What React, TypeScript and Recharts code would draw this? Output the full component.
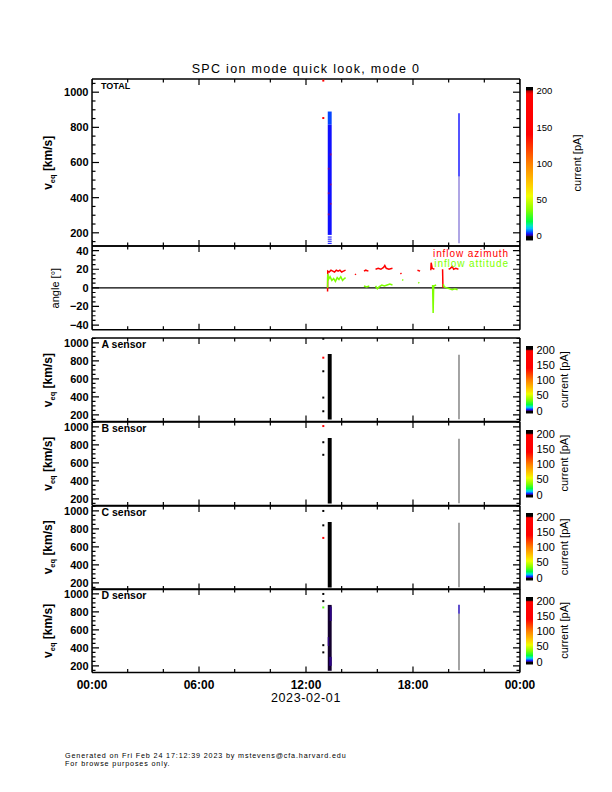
import React from "react";
import {
  ComposedChart,
  Line,
  ReferenceArea,
  ReferenceLine,
  Scatter,
  XAxis,
  YAxis
} from "recharts";

const FONT = "'Liberation Sans', Arial, Helvetica, sans-serif";

// ---- axes (hours of 2023-02-01) ----
const hourTicks = [0, 6, 12, 18, 24];
const hourMinorTicks = [2, 4, 8, 10, 14, 16, 20, 22];
const hourLabels = ["00:00", "06:00", "12:00", "18:00", "00:00"];
const dateLabel = "2023-02-01";

const velTicks = [200, 400, 600, 800, 1000];
const velMinorTicks = [150, 250, 300, 350, 450, 500, 550, 650, 700, 750, 850, 900, 950, 1050];
const angleTicks = [-40, -20, 0, 20, 40];
const angleMinorTicks = [-35, -30, -25, -15, -10, -5, 5, 10, 15, 25, 30, 35];
const currentTicks = [0, 50, 100, 150, 200];

// ---- spectrogram cells: time span [h], velocity span [km/s], current [pA] ----
type Cell = { t0: number; t1: number; v0: number; v1: number; pa: number };
type Spot = { t: number; v: number; pa: number };

const totalCells: Cell[] = [
  { t0: 13.22, t1: 13.44, v0: 815, v1: 890, pa: 5 },
  { t0: 13.22, t1: 13.44, v0: 188, v1: 815, pa: 3 },
  { t0: 13.22, t1: 13.44, v0: 173, v1: 179, pa: 3 },
  { t0: 13.22, t1: 13.44, v0: 161, v1: 167, pa: 3 },
  { t0: 13.22, t1: 13.44, v0: 149, v1: 155, pa: 3 },
  { t0: 13.22, t1: 13.44, v0: 137, v1: 143, pa: 3 },
  { t0: 20.54, t1: 20.62, v0: 520, v1: 880, pa: 3 }
];
const totalSpeckle: Cell[] = [
  { t0: 13.33, t1: 13.44, v0: 640, v1: 652, pa: 150 },
  { t0: 13.22, t1: 13.33, v0: 560, v1: 570, pa: 150 },
  { t0: 13.33, t1: 13.44, v0: 470, v1: 480, pa: 140 },
  { t0: 13.22, t1: 13.33, v0: 420, v1: 430, pa: 160 },
  { t0: 13.33, t1: 13.44, v0: 360, v1: 370, pa: 150 },
  { t0: 13.22, t1: 13.33, v0: 300, v1: 310, pa: 150 }
];
const totalSparse: Cell[] = [{ t0: 20.54, t1: 20.62, v0: 140, v1: 520, pa: 1.5 }];
const totalSpots: Spot[] = [
  { t: 12.97, v: 1066, pa: 160 },
  { t: 12.97, v: 853, pa: 150 }
];

const sensorCells: Cell[] = [{ t0: 13.22, t1: 13.44, v0: 148, v1: 877, pa: -3 }];
const sensorSparse: Cell[] = [{ t0: 20.54, t1: 20.62, v0: 150, v1: 870, pa: -3 }];
const sensorASpots: Spot[] = [
  { t: 12.97, v: 1047, pa: -3 },
  { t: 12.97, v: 836, pa: 150 },
  { t: 12.97, v: 685, pa: -3 },
  { t: 12.97, v: 392, pa: -3 },
  { t: 12.97, v: 240, pa: -3 }
];
const sensorBSpots: Spot[] = [
  { t: 12.97, v: 1010, pa: 150 },
  { t: 12.97, v: 830, pa: -3 },
  { t: 12.97, v: 690, pa: -3 }
];
const sensorCSpots: Spot[] = [
  { t: 12.97, v: 1000, pa: -3 },
  { t: 12.97, v: 840, pa: -3 },
  { t: 12.97, v: 700, pa: 150 }
];
const sensorDCells: Cell[] = [
  { t0: 13.22, t1: 13.44, v0: 145, v1: 878, pa: -0.6 },
  { t0: 13.33, t1: 13.44, v0: 700, v1: 860, pa: 0.4 },
  { t0: 13.22, t1: 13.3, v0: 420, v1: 520, pa: 0.3 },
  { t0: 13.3, t1: 13.44, v0: 200, v1: 300, pa: 0.4 },
  { t0: 20.54, t1: 20.62, v0: 780, v1: 880, pa: 1.5 }
];
const sensorDSparse: Cell[] = [{ t0: 20.54, t1: 20.62, v0: 150, v1: 780, pa: -3 }];
const sensorDSpots: Spot[] = [
  { t: 12.97, v: 1000, pa: -3 },
  { t: 12.97, v: 920, pa: -3 },
  { t: 12.97, v: 850, pa: 30 },
  { t: 12.97, v: 430, pa: -3 },
  { t: 12.97, v: 350, pa: -3 }
];

// ---- inflow angles [deg] (null = gap) ----
const azimuthHours = [
  13.21, 13.22, 13.3, 13.4, 13.5, 13.6, 13.7, 13.8, 13.9, 14.0, 14.1, 14.22, 14.23,
  14.75, 14.8, 14.81, 15.25, 15.35, 15.5, 15.51, 15.9, 16.05, 16.2, 16.35, 16.42, 16.5,
  16.65, 16.85, 16.86, 17.3, 17.35, 17.36, 17.6, 17.62, 18.25, 18.4, 18.41, 19.0, 19.02,
  19.08, 19.2, 19.21, 19.66, 19.68, 19.69, 20.0, 20.1, 20.2, 20.28, 20.4, 20.55
];
const azimuthDeg = [
  -4, 18, 17, 19, 18, 17, 19, 18, 19, 17, 18, 19, null,
  15, 14, null, 18, 19, 18, null, 20, 21, 20, 22, 24, 21,
  20, 21, null, 16, 15, null, 18, null, 19, 18, null, 19, 27,
  21, 20, null, 20, 0, null, 20, 21, 23, 20, 21, 20
];
const attitudeHours = [
  13.21, 13.22, 13.26, 13.35, 13.45, 13.55, 13.65, 13.75, 13.85, 13.95, 14.05, 14.15,
  14.22, 14.23, 14.8, 14.82, 15.25, 15.4, 15.55, 15.56, 15.9, 16.0, 16.1, 16.25, 16.4,
  16.55, 16.7, 16.85, 16.86, 17.4, 17.45, 17.46, 17.8, 17.82, 18.3, 18.35, 18.36, 19.1,
  19.13, 19.16, 19.3, 19.31, 19.7, 19.75, 19.9, 20.05, 20.2, 20.35, 20.5
];
const attitudeDeg = [
  0, 15, 9, 12, 8, 10, 7, 11, 9, 12, 8, 10,
  11, null, 4, null, 2, 1, 2, null, 2, -1, 1, 3, 2,
  3, 4, 3, null, 9, 8, null, 5, null, 6, 5, null, 3,
  -27, 2, 3, null, 4, 1, 0, -1, -2, -1, -2
];

// ---- colour table (current in pA) ----
const cmapStops: [number, string][] = [
  [-6, "#000000"], [-1, "#000000"], [0, "#300070"], [3, "#1010ff"], [6, "#0060ff"],
  [10, "#00c0ff"], [14, "#00e8c0"], [20, "#00ff40"], [35, "#80ff00"], [55, "#f0ff00"],
  [70, "#ffd000"], [100, "#ff8000"], [125, "#ff3000"], [140, "#ff0000"], [196, "#ff0000"],
  [200, "#b00000"], [202, "#000000"], [206, "#000000"]
];

function currentColor(pa: number) {
  if (pa <= cmapStops[0][0]) return cmapStops[0][1];
  for (let i = 1; i < cmapStops.length; i++) {
    const [v1, c1] = cmapStops[i];
    if (pa <= v1) {
      const [v0, c0] = cmapStops[i - 1];
      const f = (pa - v0) / (v1 - v0);
      const a = parseInt(c0.slice(1), 16);
      const b = parseInt(c1.slice(1), 16);
      const ch = (s: number) =>
        Math.round(((a >> s) & 255) * (1 - f) + ((b >> s) & 255) * f);
      return `rgb(${ch(16)},${ch(8)},${ch(0)})`;
    }
  }
  return cmapStops[cmapStops.length - 1][1];
}

// ---- layout ----
const X_LEFT = 92;
const X_RIGHT = 520;
const PAGE_W = 612;
const PAD = 20;
// recharts skips zero-sized axes, so every axis gets a hair of size
const HAIR = 0.01;

const axisLine = { stroke: "#000", strokeWidth: 1.5 };

type Side = "left" | "right" | "top" | "bottom";
type Mark = { t: number; v: number; side: Side; len: number };

// label renderer: gets the point on the axis line (tickSize 0, tickMargin 0)
function axisLabel(side: Side, label: (v: number, i: number) => string, size: number) {
  return (p: any) => {
    const x = Number(p.x);
    const y = Number(p.y);
    const text = label(p.payload.value, p.index);
    return side === "left" ? (
      <text x={x - 3.5} y={y + size * 0.36} textAnchor="end" fontFamily={FONT}
        fontSize={size} fontWeight="bold" fill="#000">
        {text}
      </text>
    ) : (
      <text x={x} y={y + 8 + size * 0.72} textAnchor="middle" fontFamily={FONT}
        fontSize={size} fontWeight="bold" fill="#000">
        {text}
      </text>
    );
  };
}

// IDL puts its tick marks inside the box, drawn here as scatter marks on the frame
function MarkShape(props: any) {
  const { cx, cy, payload } = props;
  const { side, len } = payload as Mark;
  const dx = side === "left" ? len : side === "right" ? -len : 0;
  const dy = side === "top" ? len : side === "bottom" ? -len : 0;
  return <line x1={cx} y1={cy} x2={cx + dx} y2={cy + dy} stroke="#000" strokeWidth={1.2} />;
}

function frame(
  yDomain: [number, number],
  yTicks: number[],
  yMinor: number[],
  showTime: boolean,
  yFmt: (v: number) => string = (v) => `${v}`
) {
  const common = {
    type: "number" as const,
    interval: 0 as const,
    allowDataOverflow: true,
    tickLine: false,
    tickSize: 0,
    tickMargin: 0
  };
  const xs = { ...common, dataKey: "t", domain: [0, 24], height: HAIR };
  const ys = { ...common, dataKey: "v", domain: yDomain, width: HAIR };
  const timeFmt = (_v: number, i: number) => hourLabels[i];
  const [lo, hi] = yDomain;
  const marks: Mark[] = [
    ...yTicks.map((v) => ({ t: 0, v, side: "left" as Side, len: 7 })),
    ...yMinor.map((v) => ({ t: 0, v, side: "left" as Side, len: 3.5 })),
    ...yTicks.map((v) => ({ t: 24, v, side: "right" as Side, len: 7 })),
    ...yMinor.map((v) => ({ t: 24, v, side: "right" as Side, len: 3.5 })),
    ...hourTicks.map((t) => ({ t, v: lo, side: "bottom" as Side, len: 6 })),
    ...hourMinorTicks.map((t) => ({ t, v: lo, side: "bottom" as Side, len: 3.5 })),
    ...hourTicks.map((t) => ({ t, v: hi, side: "top" as Side, len: 6 })),
    ...hourMinorTicks.map((t) => ({ t, v: hi, side: "top" as Side, len: 3.5 }))
  ];
  return [
    <XAxis key="b" xAxisId="b" {...xs} ticks={hourTicks} axisLine={axisLine}
      tick={showTime ? axisLabel("bottom", timeFmt, 12) : false} />,
    <XAxis key="t" xAxisId="t" orientation="top" {...xs} ticks={hourTicks}
      axisLine={axisLine} tick={false} />,
    <YAxis key="l" yAxisId="l" {...ys} ticks={yTicks} axisLine={axisLine}
      tick={axisLabel("left", yFmt, 11)} />,
    <YAxis key="r" yAxisId="r" orientation="right" {...ys} ticks={yTicks}
      axisLine={axisLine} tick={false} />,
    <Scatter key="marks" xAxisId="b" yAxisId="l" data={marks} shape={MarkShape}
      isAnimationActive={false} />
  ];
}

function cellAreas(cells: Cell[], prefix: string, opacity = 1) {
  return cells.map((c, i) => (
    <ReferenceArea
      key={`${prefix}-${i}`}
      xAxisId="b"
      yAxisId="l"
      x1={c.t0}
      x2={c.t1}
      y1={c.v0}
      y2={c.v1}
      fill={currentColor(c.pa)}
      fillOpacity={opacity}
      stroke="none"
      ifOverflow="visible"
    />
  ));
}

function SpotShape(props: any) {
  const { cx, cy, payload } = props;
  return <rect x={cx - 1} y={cy - 1} width={2} height={2} fill={currentColor(payload.pa)} />;
}

type SpecProps = {
  top: number;
  bottom: number;
  domain: [number, number];
  cells: Cell[];
  speckle?: Cell[];
  sparse: Cell[];
  spots: Spot[];
  showTime?: boolean;
  id: string;
};

function SpecPanel({ top, bottom, domain, cells, speckle = [], sparse, spots, showTime = false, id }: SpecProps) {
  const padB = showTime ? 40 : PAD;
  return (
    <div style={{ position: "absolute", left: 0, top: top - PAD }}>
      <ComposedChart
        width={PAGE_W}
        height={bottom - top + PAD + padB}
        data={spots}
        margin={{ top: PAD, bottom: padB, left: X_LEFT, right: PAGE_W - X_RIGHT }}
      >
        {frame(domain, velTicks, velMinorTicks, showTime)}
        {cellAreas(cells, `${id}-c`)}
        {cellAreas(speckle, `${id}-k`, 0.45)}
        {cellAreas(sparse, `${id}-s`, 0.5)}
        <Scatter
          xAxisId="b"
          yAxisId="l"
          data={spots}
          shape={SpotShape}
          isAnimationActive={false}
        />
      </ComposedChart>
    </div>
  );
}

function AnglePanel({ top, bottom }: { top: number; bottom: number }) {
  const azimuth = azimuthHours.map((t, i) => ({ t, az: azimuthDeg[i] }));
  const attitude = attitudeHours.map((t, i) => ({ t, alt: attitudeDeg[i] }));
  const fmt = (v: number) => (v < 0 ? `\u2212${-v}` : `${v}`);
  return (
    <div style={{ position: "absolute", left: 0, top: top - PAD }}>
      <ComposedChart
        width={PAGE_W}
        height={bottom - top + 2 * PAD}
        data={azimuth}
        margin={{ top: PAD, bottom: PAD, left: X_LEFT, right: PAGE_W - X_RIGHT }}
      >
        {frame([-45, 45], angleTicks, angleMinorTicks, false, fmt)}
        <ReferenceLine xAxisId="b" yAxisId="l" y={0} stroke="#000" strokeWidth={1.2} />
        <Line
          xAxisId="b"
          yAxisId="l"
          data={azimuth}
          dataKey="az"
          stroke="#ff0000"
          strokeWidth={1.5}
          dot={false}
          connectNulls={false}
          isAnimationActive={false}
        />
        <Line
          xAxisId="b"
          yAxisId="l"
          data={attitude}
          dataKey="alt"
          stroke="#7fff00"
          strokeWidth={1.5}
          dot={false}
          connectNulls={false}
          isAnimationActive={false}
        />
      </ComposedChart>
    </div>
  );
}

function ColorBar({ id, top, bottom, domain, fontSize }: {
  id: string; top: number; bottom: number; domain: [number, number]; fontSize: number;
}) {
  const w = 60;
  const barW = 7;
  const [lo, hi] = domain;
  // colour bands of the table, 1.5 pA tall, painted bottom to top
  const bands: { x: number; c: number }[] = [];
  for (let v = lo; v < hi; v += 1.5) bands.push({ x: 0.5, c: v });
  return (
    <div style={{ position: "absolute", left: 526, top: top - 12 }}>
      <ComposedChart
        width={w}
        height={bottom - top + 24}
        data={bands}
        margin={{ top: 12, bottom: 12, left: 0, right: w - barW }}
      >
        <defs>
          <linearGradient id={id} x1="0" y1="1" x2="0" y2="0">
            {cmapStops.map(([v, c]) => (
              <stop key={v} offset={(v - lo) / (hi - lo)} stopColor={c} />
            ))}
          </linearGradient>
        </defs>
        <XAxis xAxisId="x" dataKey="x" type="number" domain={[0, 1]} allowDataOverflow
          height={HAIR} axisLine={false} tickLine={false} tick={false} />
        <YAxis
          yAxisId="c"
          dataKey="c"
          orientation="right"
          type="number"
          domain={domain}
          allowDataOverflow
          ticks={currentTicks}
          interval={0}
          width={HAIR}
          axisLine={false}
          tickLine={false}
          tickSize={0}
          tickMargin={3.5}
          tick={{ fill: "#000", fontSize, fontFamily: FONT }}
        />
        {bands.map((b) => (
          <ReferenceArea
            key={b.c}
            xAxisId="x"
            yAxisId="c"
            x1={0}
            x2={1}
            y1={b.c}
            y2={Math.min(b.c + 2.2, hi)}
            fill={currentColor(b.c + 0.75)}
            fillOpacity={1}
            stroke="none"
            ifOverflow="visible"
          />
        ))}
        <ReferenceArea
          xAxisId="x"
          yAxisId="c"
          x1={0}
          x2={1}
          y1={lo}
          y2={hi}
          fill={`url(#${id})`}
          fillOpacity={1}
          stroke="none"
          ifOverflow="visible"
        />
      </ComposedChart>
    </div>
  );
}

function VeqLabel({ x, y, size = 12 }: { x: number; y: number; size?: number }) {
  return (
    <text
      transform={`translate(${x},${y}) rotate(-90)`}
      textAnchor="middle"
      fontFamily={FONT}
      fontSize={size}
      fontWeight="bold"
      fill="#000"
    >
      v<tspan dy={3} fontSize={size * 0.62}>eq</tspan>
      <tspan dy={-3}> [km/s]</tspan>
    </text>
  );
}

function RotLabel({ x, y, text, size = 11 }: { x: number; y: number; text: string; size?: number }) {
  return (
    <text
      transform={`translate(${x},${y}) rotate(-90)`}
      textAnchor="middle"
      fontFamily={FONT}
      fontSize={size}
      fill="#000"
    >
      {text}
    </text>
  );
}

const sensors = [
  { id: "A", name: "A sensor", top: 338.3, bottom: 421.9, cells: sensorCells, sparse: sensorSparse, spots: sensorASpots },
  { id: "B", name: "B sensor", top: 421.9, bottom: 505.5, cells: sensorCells, sparse: sensorSparse, spots: sensorBSpots },
  { id: "C", name: "C sensor", top: 505.5, bottom: 589.1, cells: sensorCells, sparse: sensorSparse, spots: sensorCSpots },
  { id: "D", name: "D sensor", top: 589.1, bottom: 672.7, cells: sensorDCells, sparse: sensorDSparse, spots: sensorDSpots }
];

export default function App() {
  const total = { top: 79.3, bottom: 246.3 };
  const angle = { top: 246.3, bottom: 330 };
  const sensorDomain: [number, number] = [125, 1055];
  return (
    <div
      style={{
        position: "absolute",
        left: 0,
        top: 0,
        width: PAGE_W,
        height: 792,
        background: "#fff",
        overflow: "hidden"
      }}
    >
      <SpecPanel
        id="total"
        top={total.top}
        bottom={total.bottom}
        domain={[125, 1075]}
        cells={totalCells}
        speckle={totalSpeckle}
        sparse={totalSparse}
        spots={totalSpots}
      />
      <ColorBar id="cb-total" top={86.7} bottom={240} domain={[-6, 205.5]} fontSize={9.5} />
      <AnglePanel top={angle.top} bottom={angle.bottom} />
      {sensors.map((s, i) => (
        <React.Fragment key={s.id}>
          <SpecPanel
            id={s.id}
            top={s.top}
            bottom={s.bottom}
            domain={sensorDomain}
            cells={s.cells}
            sparse={s.sparse}
            spots={s.spots}
            showTime={i === sensors.length - 1}
          />
          <ColorBar
            id={`cb-${s.id}`}
            top={s.top + 7.7}
            bottom={s.bottom - 8.6}
            domain={[-8.5, 213]}
            fontSize={11}
          />
        </React.Fragment>
      ))}

      <svg
        width={PAGE_W}
        height={792}
        style={{ position: "absolute", left: 0, top: 0, pointerEvents: "none" }}
      >
        <text x={306} y={72.5} textAnchor="middle" fontFamily={FONT} fontSize={12.5}
          letterSpacing={1.3} fill="#000">
          SPC ion mode quick look, mode 0
        </text>

        <text x={101} y={89} fontFamily={FONT} fontSize={9} fontWeight="bold" fill="#000">
          TOTAL
        </text>
        <VeqLabel x={52} y={(total.top + total.bottom) / 2} />
        <RotLabel x={581} y={163} text="current [pA]" />

        <RotLabel x={59} y={(angle.top + angle.bottom) / 2} text="angle [°]" />
        <text x={509} y={256.7} textAnchor="end" fontFamily={FONT} fontSize={10}
          letterSpacing={0.9} fill="#ff0000">
          inflow azimuth
        </text>
        <text x={509} y={266.7} textAnchor="end" fontFamily={FONT} fontSize={10}
          letterSpacing={0.9} fill="#7fff00">
          inflow attitude
        </text>

        {sensors.map((s) => (
          <React.Fragment key={s.id}>
            <text x={101.5} y={s.top + 10} fontFamily={FONT} fontSize={10.5}
              fontWeight="bold" fill="#000">
              {s.name}
            </text>
            <VeqLabel x={52} y={(s.top + s.bottom) / 2} />
            <RotLabel x={568} y={(s.top + s.bottom) / 2 - 0.5} text="current [pA]" />
          </React.Fragment>
        ))}

        <text x={306} y={702} textAnchor="middle" fontFamily={FONT} fontSize={12.5}
          letterSpacing={0.6} fill="#000">
          {dateLabel}
        </text>

        <text x={65} y={757.5} fontFamily={FONT} fontSize={7.2} letterSpacing={0.85} fill="#000">
          Generated on Fri Feb 24 17:12:39 2023 by mstevens@cfa.harvard.edu
        </text>
        <text x={65} y={765.5} fontFamily={FONT} fontSize={7.2} letterSpacing={0.85} fill="#000">
          For browse purposes only.
        </text>
      </svg>
    </div>
  );
}
